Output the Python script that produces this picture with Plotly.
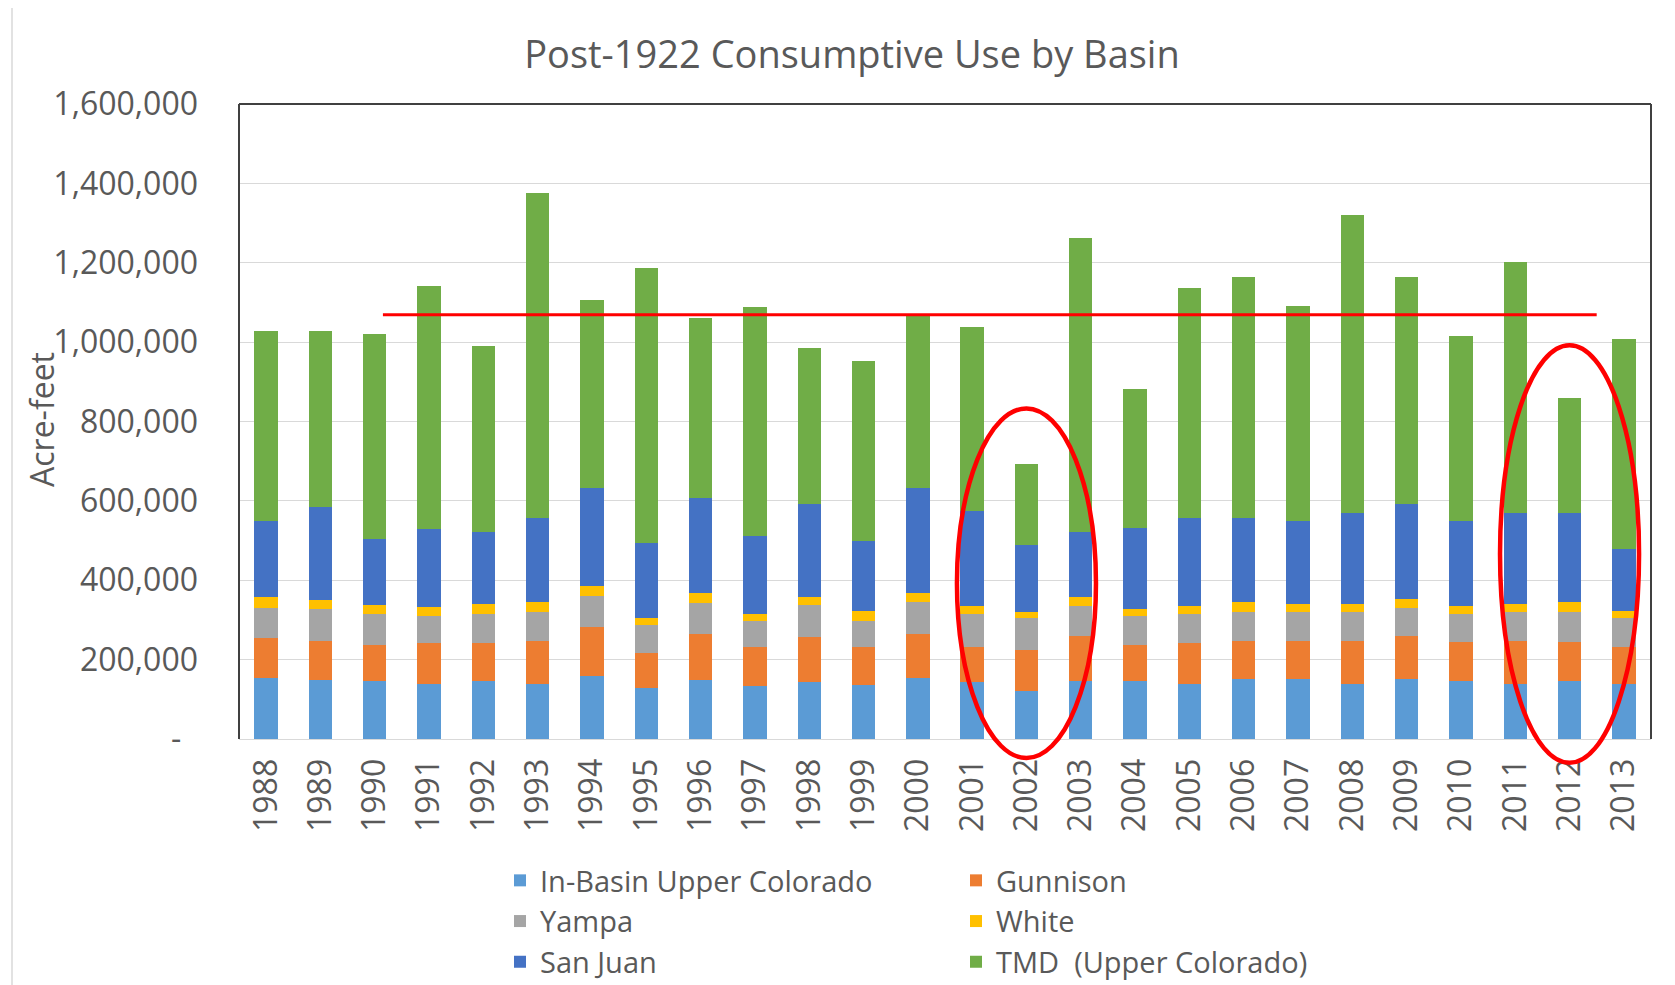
import plotly.graph_objects as go

# ---------------- data (acre-feet) ----------------
years = [str(y) for y in range(1988, 2014)]

in_basin_upper_colorado = [154500, 149100, 145800, 138200, 145800, 138200, 157800, 127300, 149100, 132800,
                           143700, 136000, 154500, 143700, 121900, 145800, 145800, 138200, 151300, 151300,
                           138200, 151300, 145800, 138200, 145800, 138200]
gunnison = [100200, 97900, 90400, 103400, 95800, 108800, 125200, 90400, 114300, 97900,
            114300, 94700, 111100, 87000, 103400, 114300, 90400, 103400, 95700, 95700,
            108800, 108800, 98000, 108800, 98000, 92500]
yampa = [76200, 81700, 79400, 67500, 72900, 73000, 78300, 69600, 80500, 67500,
         79400, 67500, 79400, 84900, 78400, 74000, 74000, 72900, 74100, 74100,
         74100, 70800, 71800, 73000, 76200, 73000]
white = [27100, 21700, 21800, 22900, 25100, 25000, 24000, 16400, 22900, 17400,
         20700, 25100, 24000, 18500, 17400, 24000, 18500, 19600, 23900, 18500,
         18500, 21700, 18500, 19600, 25000, 19600]
san_juan = [190500, 234100, 167600, 197000, 181700, 212300, 246000, 190400, 241600, 194900,
            234000, 176300, 262300, 239500, 167600, 163200, 203500, 223200, 212300, 210000,
            230700, 239500, 215500, 230700, 225300, 154500]
tmd_upper_colorado = [478500, 442500, 514800, 611600, 469100, 818400, 475600, 692300, 451700, 577900,
                      392900, 451600, 437500, 464700, 204600, 740100, 349400, 579000, 607300, 541000,
                      748800, 572500, 464800, 632400, 289500, 531100]

series_names = ["In-Basin Upper Colorado", "Gunnison", "Yampa", "White", "San Juan", "TMD  (Upper Colorado)"]
series_values = [in_basin_upper_colorado, gunnison, yampa, white, san_juan, tmd_upper_colorado]
series_colors = ["#5B9BD5", "#ED7D31", "#A5A5A5", "#FFC000", "#4472C4", "#70AD47"]
series_legend = ["legend", "legend2", "legend", "legend2", "legend", "legend2"]

y_tick_values = [0, 200000, 400000, 600000, 800000, 1000000, 1200000, 1400000, 1600000]
y_tick_labels = ["-\u00a0\u00a0", "200,000", "400,000", "600,000", "800,000", "1,000,000",
                 "1,200,000", "1,400,000", "1,600,000"]

# reference line (average) and highlighted years
avg_line_value = 1069000
avg_line_start_year = "1990"
avg_line_end_year = "2012"
highlight_years = ["2002", "2012"]
highlight_tops = [833000, 992000]
highlight_bottoms = [-48000, -60000]

# ---------------- layout constants ----------------
OFF = 8                      # page body margin
W, H = 1675, 985
L, R, T, B = 231, 32, 96, 254
PW, PH = W - L - R, H - T - B
Y_MAX = 1600000
TXT = "#595959"
FONT = "Open Sans"

fig = go.Figure()
for name, vals, col, lg in zip(series_names, series_values, series_colors, series_legend):
    fig.add_trace(go.Bar(x=years, y=vals, name=name, marker=dict(color=col, line=dict(width=0)),
                         legend=lg))

n = len(years)


def px_x(page_px):
    return (page_px - OFF - L) / PW


def px_y(page_py):
    return (H - B - (page_py - OFF)) / PH


def cat_paper(idx):
    return (idx + 0.5) / n


shapes = []
# average line
i0 = years.index(avg_line_start_year) + 0.15
i1 = years.index(avg_line_end_year) + 0.5
shapes.append(dict(type="line", xref="x", yref="y", x0=i0, x1=i1, y0=avg_line_value, y1=avg_line_value,
                   line=dict(color="#FF0000", width=3), layer="above"))
# ellipses
for yr, top, bot in zip(highlight_years, highlight_tops, highlight_bottoms):
    c = years.index(yr)
    shapes.append(dict(type="circle", xref="paper", yref="paper",
                       x0=cat_paper(c - 1.28), x1=cat_paper(c + 1.28),
                       y0=bot / Y_MAX, y1=top / Y_MAX,
                       line=dict(color="#FF0000", width=4.5), layer="above"))
# plot frame (left, top, right dark)
frame = dict(color="#404040", width=2)
shapes += [
    dict(type="line", xref="paper", yref="paper", x0=0, x1=0, y0=0, y1=1, line=frame),
    dict(type="line", xref="paper", yref="paper", x0=0, x1=1, y0=1, y1=1, line=frame),
    dict(type="line", xref="paper", yref="paper", x0=1, x1=1, y0=0, y1=1, line=frame),
]
# outer chart border (left and top edges visible)
border = dict(color="#D9D9D9", width=1.5)
shapes += [
    dict(type="line", xref="paper", yref="paper", x0=px_x(12), x1=px_x(12), y0=px_y(6), y1=px_y(H + OFF),
         line=border),
    dict(type="line", xref="paper", yref="paper", x0=px_x(12), x1=px_x(W + OFF), y0=px_y(6), y1=px_y(6),
         line=border),
]

LEG_TOP = 847  # figure px
LEG_SIZE = 29
fig.update_layout(
    width=W, height=H,
    margin=dict(l=L, r=R, t=T, b=B, pad=0),
    paper_bgcolor="white", plot_bgcolor="white",
    barmode="stack", bargap=0.57,
    font=dict(family=FONT, color=TXT),
    title=dict(text="Post-1922 Consumptive Use by Basin", x=(852 - OFF) / W, xanchor="center",
               y=1 - (55 - OFF) / H, yanchor="middle", font=dict(size=38, color=TXT, family=FONT)),
    xaxis=dict(type="category", tickangle=-90, tickfont=dict(size=32, color=TXT), showgrid=False,
               showline=True, linecolor="#D9D9D9", linewidth=1, ticks="", ticklabelstandoff=6,
               range=[-0.5, n - 0.5], automargin=False),
    yaxis=dict(range=[0, Y_MAX], tickvals=y_tick_values, ticktext=y_tick_labels,
               tickfont=dict(size=32, color=TXT), showgrid=True, gridcolor="#D9D9D9", gridwidth=1,
               zeroline=False, showline=False, ticks="", ticklabelstandoff=40, automargin=False),
    legend=dict(orientation="v", x=px_x(500), y=(H - LEG_TOP) / H, xref="paper", yref="container",
                xanchor="left", yanchor="top", traceorder="normal", font=dict(size=LEG_SIZE, color=TXT),
                bgcolor="rgba(0,0,0,0)", itemwidth=30),
    legend2=dict(orientation="v", x=px_x(956), y=(H - LEG_TOP) / H, xref="paper", yref="container",
                 xanchor="left", yanchor="top", traceorder="normal", font=dict(size=LEG_SIZE, color=TXT),
                 bgcolor="rgba(0,0,0,0)", itemwidth=30),
    shapes=shapes,
    annotations=[dict(text="Acre-feet", xref="paper", yref="paper", x=px_x(41), y=px_y(420),
                      xanchor="center", yanchor="middle", textangle=-90, showarrow=False,
                      font=dict(size=32, color=TXT, family=FONT))],
)

fig.write_html("out.html")
